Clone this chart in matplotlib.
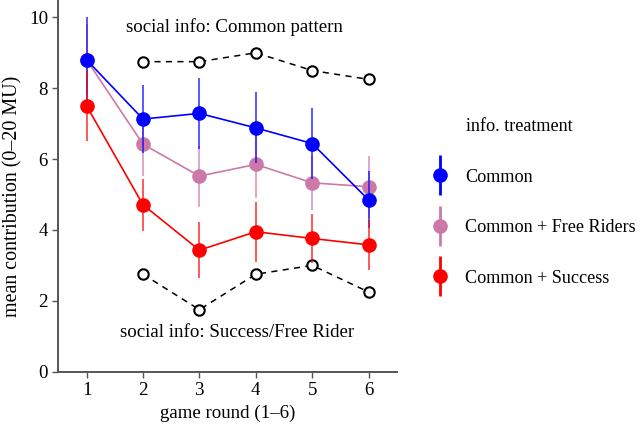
import matplotlib
matplotlib.use("Agg")
import matplotlib.pyplot as plt
from matplotlib.lines import Line2D
from matplotlib.legend_handler import HandlerTuple

plt.rcParams['font.family'] = ['Liberation Serif', 'DejaVu Serif']

rounds = [1, 2, 3, 4, 5, 6]
common = [8.80, 7.13, 7.29, 6.88, 6.44, 4.85]
common_err = [1.2, 0.95, 1.0, 1.0, 1.0, 0.8]
free_riders = [8.80, 6.42, 5.52, 5.85, 5.33, 5.22]
free_riders_err = [1.0, 0.9, 0.86, 0.95, 0.77, 0.87]
success = [7.50, 4.71, 3.43, 3.95, 3.76, 3.58]
success_err = [1.0, 0.73, 0.8, 0.85, 0.7, 0.71]

info_rounds = [2, 3, 4, 5, 6]
info_common = [8.75, 8.75, 9.0, 8.5, 8.25]
info_success = [2.75, 1.75, 2.75, 3.0, 2.25]

labels = ["Common", "Common + Free Riders", "Common + Success"]
colors = ["#0000FF", "#CC79A7", "#FF0000"]

fig = plt.figure(figsize=(6.42, 4.26), dpi=100)
ax = fig.add_axes([0.091, 0.1275, 0.527, 0.8725])

fs = 13.6
lfs = 13.1

# dashed info lines
for vals in (info_common, info_success):
    ax.plot(info_rounds, vals, '--', color='black', lw=1.1, dashes=(4, 3.5), zorder=2)
    ax.plot(info_rounds, vals, 'o', ms=7.5, mfc='white', mec='black', mew=1.5, zorder=3, linestyle='none')

series = [(free_riders, free_riders_err, 1), (common, common_err, 0), (success, success_err, 2)]
z = 4
handles = {}
for vals, err, i in series:
    c = colors[i]
    ax.plot(rounds, vals, '-', color=c, lw=1.2, zorder=z)
    ax.errorbar(rounds, vals, yerr=err, fmt='none', ecolor=c, elinewidth=1.4, alpha=0.65, zorder=z)
    ax.plot(rounds, vals, 'o', color=c, ms=9.5, zorder=z + 0.5, linestyle='none')
    bar = Line2D([], [], marker='|', ms=29, mew=2.0, color=c, linestyle='none')
    dot = Line2D([], [], marker='o', ms=9.5, color=c, linestyle='none')
    handles[i] = (bar, dot)
    z += 1

ax.text(3.62, 9.73, "social info: Common pattern", ha='center', va='center', fontsize=fs)
ax.text(3.66, 1.12, "social info: Success/Free Rider", ha='center', va='center', fontsize=fs)

ax.set_xlim(0.5, 6.5)
ax.set_ylim(0, 10.49)
ax.set_xticks(rounds)
ax.set_yticks([0, 2, 4, 6, 8, 10])
ax.tick_params(labelsize=fs, length=4, width=1, color='#555555', direction='out')
for s in ('top', 'right'):
    ax.spines[s].set_visible(False)
for s in ('left', 'bottom'):
    ax.spines[s].set_color('#555555')
    ax.spines[s].set_linewidth(1.4)
ax.set_xlabel("game round (1–6)", fontsize=fs)
ax.set_ylabel("mean contribution (0–20 MU)", fontsize=14.4)
ax.yaxis.set_label_coords(-0.105, 0.473)

leg = fig.legend([handles[0], handles[1], handles[2]], labels,
                 handler_map={tuple: HandlerTuple(ndivide=1)},
                 loc='upper left', bbox_to_anchor=(0.663, 0.625), frameon=False,
                 fontsize=lfs, numpoints=1, handlelength=0.6,
                 labelspacing=1.84, handletextpad=1.05, borderpad=0)
fig.text(0.726, 0.702, "info. treatment", ha='left', va='center', fontsize=lfs)

fig.savefig("out.png", dpi=100)
